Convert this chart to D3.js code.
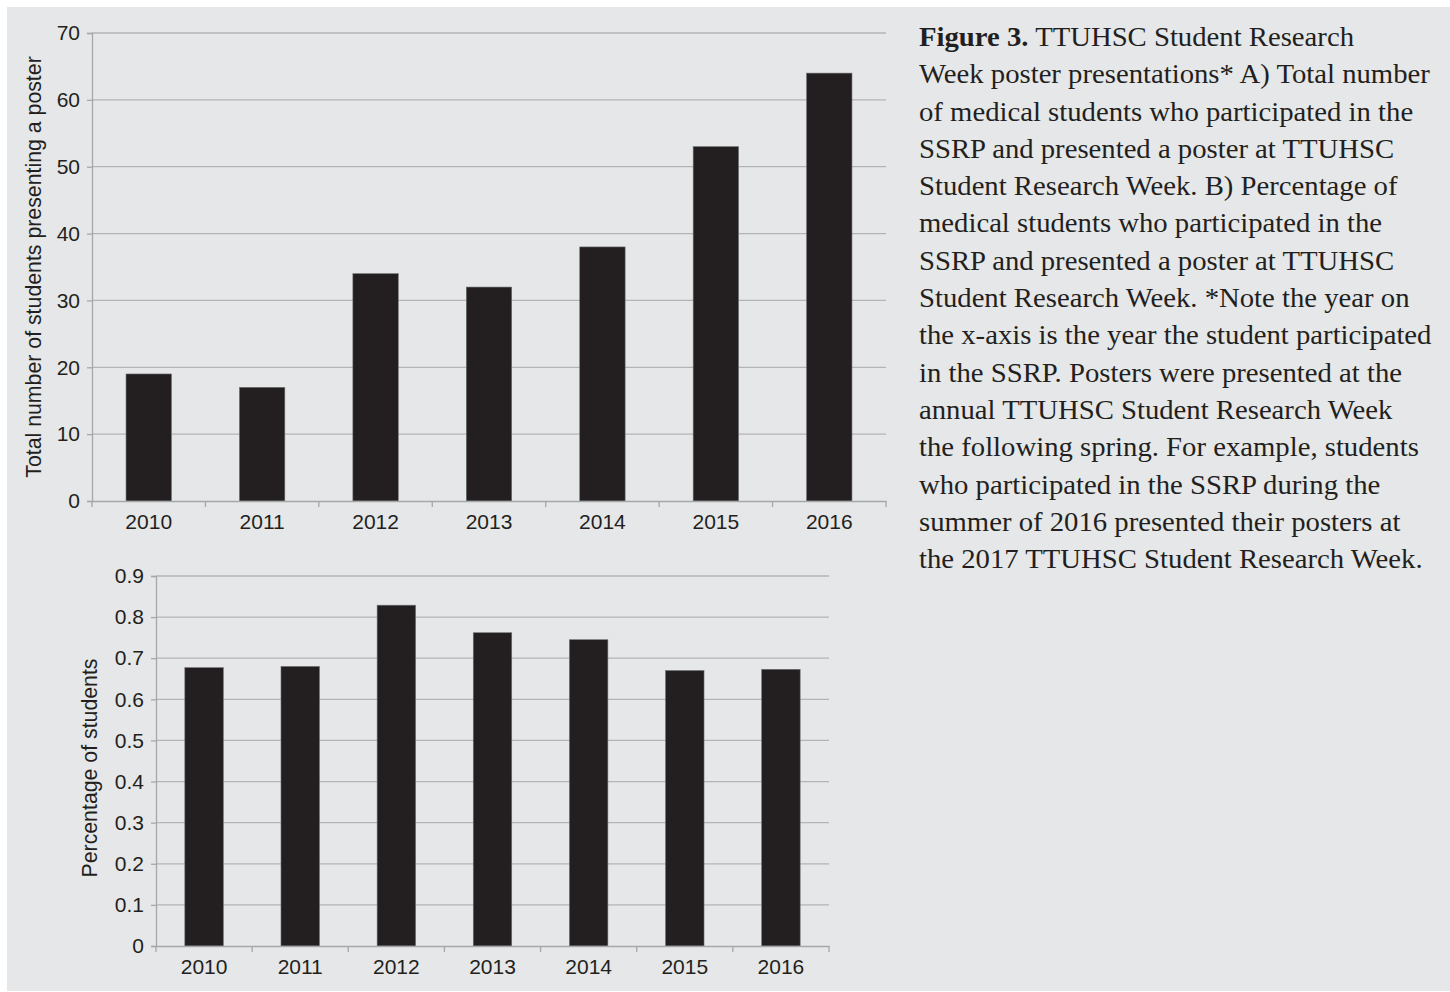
<!DOCTYPE html>
<html>
<head>
<meta charset="utf-8">
<script src="https://cdn.jsdelivr.net/npm/d3@7"></script>
<style>
  html, body { margin: 0; padding: 0; background: #ffffff; }
  svg { display: block; }
</style>
</head>
<body>
<script>
// Student Research Week posters by SSRP year
const years = ["2010", "2011", "2012", "2013", "2014", "2015", "2016"];
const posterCounts = [19, 17, 34, 32, 38, 53, 64];
const posterShare = [0.677, 0.680, 0.829, 0.762, 0.745, 0.670, 0.673];
const countTicks = [0, 10, 20, 30, 40, 50, 60, 70];
const shareTicks = [0, 0.1, 0.2, 0.3, 0.4, 0.5, 0.6, 0.7, 0.8, 0.9];
const countTitle = "Total number of students presenting a poster";
const shareTitle = "Percentage of students";

const captionLines = [
  [["Figure 3.", true], [" TTUHSC Student Research", false]],
  [["Week poster presentations* A) Total number", false]],
  [["of medical students who participated in the", false]],
  [["SSRP and presented a poster at TTUHSC", false]],
  [["Student Research Week. B) Percentage of", false]],
  [["medical students who participated in the", false]],
  [["SSRP and presented a poster at TTUHSC", false]],
  [["Student Research Week. *Note the year on", false]],
  [["the x-axis is the year the student participated", false]],
  [["in the SSRP. Posters were presented at the", false]],
  [["annual TTUHSC Student Research Week", false]],
  [["the following spring. For example, students", false]],
  [["who participated in the SSRP during the", false]],
  [["summer of 2016 presented their posters at", false]],
  [["the 2017 TTUHSC Student Research Week.", false]]
];

const W = 1450, H = 992;
const ink = "#231f20";
const gridColor = "#b3b4b6";
const axisColor = "#a6a7a9";
const sans = "'Liberation Sans', Arial, sans-serif";
const serif = "'Liberation Serif', 'Times New Roman', serif";

const svg = d3.select("body").append("svg")
  .attr("width", W).attr("height", H);

// panel background
svg.append("rect")
  .attr("x", 7).attr("y", 7)
  .attr("width", W - 7).attr("height", H - 8)
  .attr("fill", "#e6e7e8");

function barChart(cfg) {
  const g = svg.append("g").attr("transform", `translate(${cfg.left},${cfg.top})`);
  const x = d3.scaleBand().domain(years).range([0, cfg.width])
    .paddingInner(0.6).paddingOuter(0.3);
  const y = d3.scaleLinear().domain([0, cfg.max]).range([cfg.height, 0]);

  // horizontal gridlines
  g.append("g").selectAll("line")
    .data(cfg.ticks.filter(t => t > 0))
    .join("line")
    .attr("x1", 0).attr("x2", cfg.width)
    .attr("y1", d => y(d)).attr("y2", d => y(d))
    .attr("stroke", gridColor).attr("stroke-width", 1.3);

  // bars
  g.append("g").selectAll("rect")
    .data(cfg.values)
    .join("rect")
    .attr("x", (d, i) => x(years[i]))
    .attr("width", x.bandwidth())
    .attr("y", d => y(d))
    .attr("height", d => cfg.height - y(d))
    .attr("fill", ink)
    .attr("stroke", "#6d6e70").attr("stroke-width", 0.6);

  // y axis
  const ya = g.append("g")
    .call(d3.axisLeft(y).tickValues(cfg.ticks).tickFormat(cfg.fmt)
      .tickSize(5).tickPadding(7));
  ya.select(".domain").attr("stroke", axisColor).attr("stroke-width", 1.3);
  ya.selectAll(".tick line").attr("stroke", axisColor).attr("stroke-width", 1.3);
  ya.selectAll("text").attr("font-family", sans).attr("font-size", 21)
    .attr("fill", ink);

  // x axis with ticks at category boundaries
  const xa = g.append("g").attr("transform", `translate(0,${cfg.height})`)
    .call(d3.axisBottom(x).tickSize(0).tickPadding(13));
  xa.select(".domain").attr("stroke", axisColor).attr("stroke-width", 1.3);
  xa.selectAll("text").attr("font-family", sans).attr("font-size", 21)
    .attr("fill", ink);
  xa.append("g").selectAll("line")
    .data(d3.range(years.length + 1))
    .join("line")
    .attr("x1", i => x.range()[0] + i * x.step())
    .attr("x2", i => x.range()[0] + i * x.step())
    .attr("y1", 0).attr("y2", 6)
    .attr("stroke", axisColor).attr("stroke-width", 1.3);

  // y title
  g.append("text")
    .attr("transform", `translate(${cfg.titleX},${cfg.height / 2 + cfg.titleShift}) rotate(-90)`)
    .attr("text-anchor", "middle")
    .attr("font-family", sans).attr("font-size", 21.3)
    .attr("fill", ink)
    .text(cfg.title);
}

barChart({
  left: 92, top: 33, width: 794, height: 468,
  max: 70, values: posterCounts, ticks: countTicks,
  fmt: d3.format("d"), title: countTitle, titleX: -51, titleShift: 0
});

barChart({
  left: 156, top: 576, width: 673, height: 370,
  max: 0.9, values: posterShare, ticks: shareTicks,
  fmt: d => d === 0 ? "0" : d3.format(".1f")(d), title: shareTitle,
  titleX: -59, titleShift: 7
});

// figure caption (slightly widened serif setting)
const cap = svg.append("text")
  .attr("transform", "translate(919,0) scale(1.052,1)")
  .attr("font-family", serif).attr("font-size", 27.3)
  .attr("fill", ink);
captionLines.forEach((parts, i) => {
  parts.forEach((p, j) => {
    const t = cap.append("tspan").text(p[0])
      .attr("font-weight", p[1] ? "bold" : "normal");
    if (j === 0) t.attr("x", 0).attr("y", 46 + i * 37.3);
  });
});
</script>
</body>
</html>
